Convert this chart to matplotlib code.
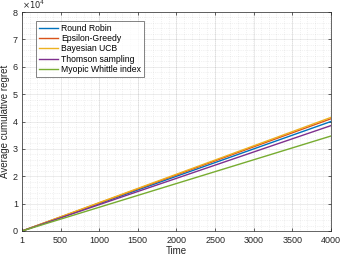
import matplotlib
matplotlib.use("Agg")
import matplotlib.pyplot as plt
from matplotlib.ticker import AutoMinorLocator

time = [1, 4000]
round_robin = [0, 40000]
epsilon_greedy = [0, 41000]
bayesian_ucb = [0, 41500]
thomson = [0, 38500]
whittle = [0, 34700]
labels = ["Round Robin", "Epsilon-Greedy", "Bayesian UCB", "Thomson sampling", "Myopic Whittle index"]
colors = ["#0072BD", "#D95319", "#EDB120", "#7E2F8E", "#77AC30"]
xticks = [1, 500, 1000, 1500, 2000, 2500, 3000, 3500, 4000]
yticks = [0, 1, 2, 3, 4, 5, 6, 7, 8]

plt.rcParams['font.family'] = ['Liberation Sans', 'DejaVu Sans']
fig = plt.figure(figsize=(3.41, 2.56), dpi=100)
ax = fig.add_axes([22/341, 1-231/256, (331-22)/341, (231-12)/256])

series = [round_robin, epsilon_greedy, bayesian_ucb, thomson, whittle]
for s, lab, c in zip(series, labels, colors):
    ax.plot(time, [v / 1e4 for v in s], color=c, lw=1.0, label=lab)

ax.set_xlim(1, 4000)
ax.set_ylim(0, 8)
ax.set_xticks(xticks)
ax.set_yticks(yticks)
ax.xaxis.set_minor_locator(AutoMinorLocator(5))
ax.yaxis.set_minor_locator(AutoMinorLocator(5))
ax.grid(True, which='major', color='#262626', alpha=0.12, lw=0.5)
ax.grid(True, which='minor', color='#262626', alpha=0.12, lw=0.5, ls=':')
ax.tick_params(which='both', direction='in', top=True, right=True, labelsize=6.5, colors='#262626', length=2.5, width=0.5)
ax.tick_params(which='minor', length=0)
ax.tick_params(axis='y', pad=3)
for sp in ax.spines.values():
    sp.set_color('#262626')
    sp.set_linewidth(0.5)
ax.set_xlabel("Time", fontsize=7, color='#262626', labelpad=1)
ax.set_ylabel("Average cumulative regret", fontsize=7, color='#262626')
ax.yaxis.set_label_coords(-0.040, 0.5)
ax.text(0.0, 1.005, r"$\times10^4$", transform=ax.transAxes, fontsize=6, color='#262626', ha='left', va='bottom')

leg = ax.legend(loc='upper left', bbox_to_anchor=(0.045, 0.96), fontsize=6.2, frameon=True, fancybox=False,
                edgecolor='#262626', handlelength=2.2, handletextpad=0.4, labelspacing=0.15, borderpad=0.35,
                borderaxespad=0)
leg.get_frame().set_linewidth(0.5)

fig.savefig("out.png", dpi=100)
